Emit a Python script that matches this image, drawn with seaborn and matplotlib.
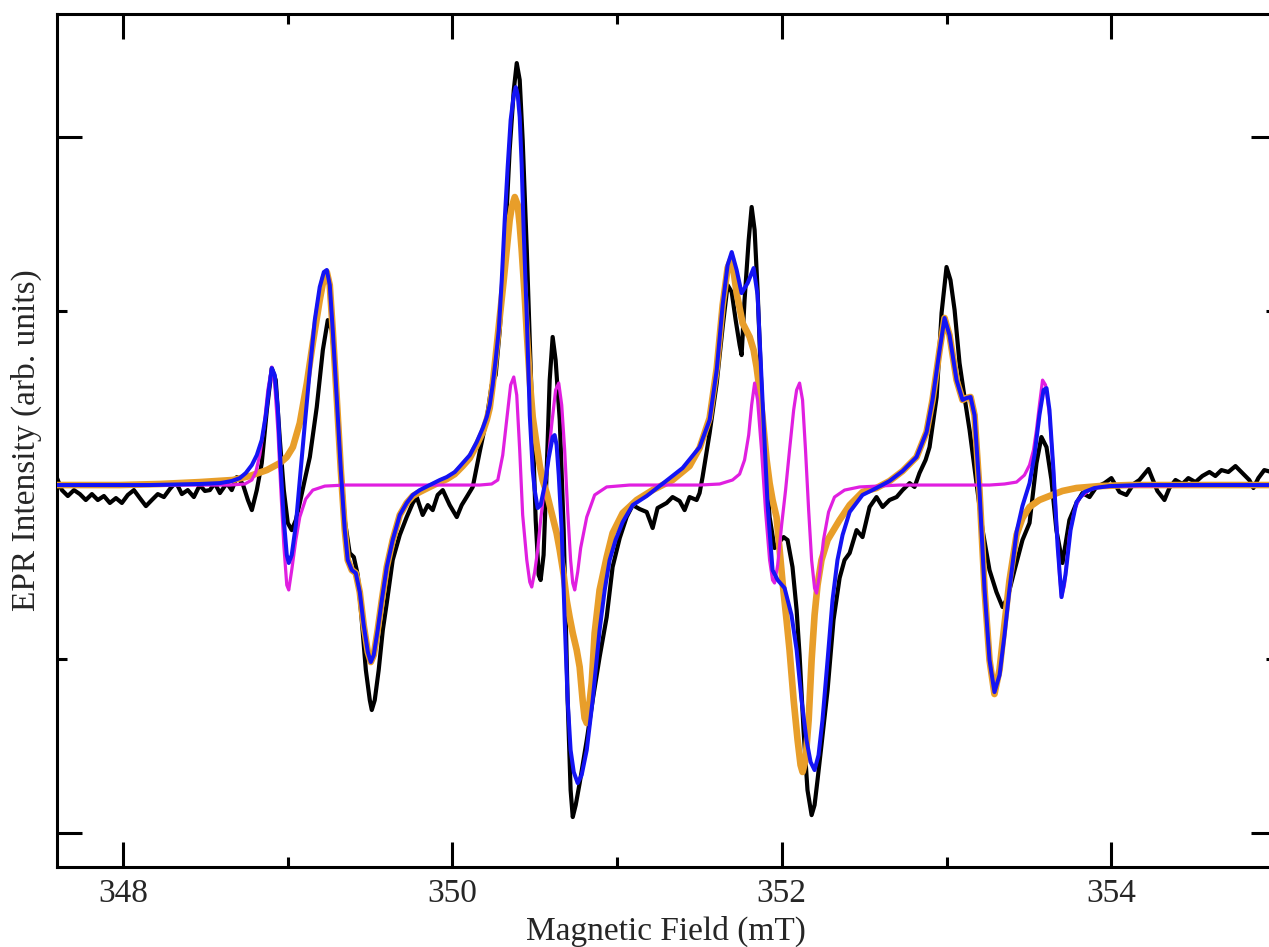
"""EPR spectrum with simulated components (experiment, fit and two sub-spectra)."""

import matplotlib
matplotlib.use('Agg')
import matplotlib.pyplot as plt
from matplotlib.ticker import MultipleLocator
import seaborn as sns

# --- data (field in mT, intensity in arb. units) ---

black_field = [
    347.600, 347.630, 347.666, 347.703, 347.739, 347.775, 347.812, 347.848, 347.885, 347.921,
    347.958, 347.994, 348.030, 348.067, 348.103, 348.140, 348.176, 348.212, 348.249, 348.285,
    348.322, 348.358, 348.394, 348.431, 348.467, 348.498, 348.528, 348.558, 348.589, 348.631,
    348.661, 348.692, 348.728, 348.759, 348.783, 348.813, 348.843, 348.874, 348.904, 348.928,
    348.953, 348.977, 349.001, 349.025, 349.050, 349.074, 349.104, 349.135, 349.177, 349.214,
    349.244, 349.268, 349.292, 349.317, 349.347, 349.377, 349.402, 349.426, 349.450, 349.475,
    349.499, 349.511, 349.529, 349.553, 349.578, 349.602, 349.638, 349.681, 349.723, 349.760,
    349.784, 349.820, 349.851, 349.881, 349.911, 349.942, 349.984, 350.027, 350.057, 350.087,
    350.124, 350.166, 350.209, 350.239, 350.263, 350.288, 350.318, 350.348, 350.373, 350.391,
    350.409, 350.427, 350.452, 350.470, 350.488, 350.506, 350.524, 350.536, 350.554, 350.573,
    350.591, 350.609, 350.627, 350.652, 350.676, 350.700, 350.718, 350.731, 350.749, 350.773,
    350.816, 350.852, 350.894, 350.937, 350.973, 351.016, 351.058, 351.095, 351.137, 351.180,
    351.216, 351.246, 351.301, 351.337, 351.380, 351.410, 351.440, 351.483, 351.501, 351.519,
    351.562, 351.605, 351.641, 351.671, 351.696, 351.720, 351.744, 351.756, 351.774, 351.799,
    351.817, 351.835, 351.853, 351.883, 351.926, 351.956, 351.980, 352.011, 352.035, 352.065,
    352.090, 352.108, 352.132, 352.156, 352.181, 352.199, 352.217, 352.241, 352.278, 352.314,
    352.351, 352.381, 352.412, 352.454, 352.490, 352.533, 352.575, 352.612, 352.654, 352.697,
    352.733, 352.776, 352.806, 352.836, 352.873, 352.897, 352.940, 352.970, 353.000, 353.024,
    353.049, 353.079, 353.109, 353.140, 353.182, 353.219, 353.261, 353.303, 353.340, 353.370,
    353.413, 353.461, 353.504, 353.546, 353.576, 353.607, 353.637, 353.667, 353.704, 353.746,
    353.789, 353.825, 353.868, 353.910, 353.959, 354.001, 354.050, 354.092, 354.135, 354.171,
    354.226, 354.280, 354.323, 354.353, 354.390, 354.432, 354.468, 354.511, 354.553, 354.596,
    354.632, 354.669, 354.711, 354.754, 354.796, 354.838, 354.863, 354.893, 354.929, 354.972,
]
black_signal = [
    0.040, -0.029, -0.063, -0.029, -0.052, -0.086, -0.052, -0.086, -0.063, -0.103,
    -0.075, -0.103, -0.057, -0.029, -0.075, -0.121, -0.086, -0.052, -0.069, -0.023,
    0.017, -0.052, -0.029, -0.069, 0.000, -0.034, -0.029, 0.011, -0.046, 0.011,
    -0.029, 0.046, 0.006, -0.086, -0.144, -0.029, 0.126, 0.431, 0.672, 0.603,
    0.259, -0.029, -0.218, -0.259, -0.201, -0.103, 0.029, 0.161, 0.448, 0.776,
    0.948, 0.891, 0.632, 0.201, -0.201, -0.391, -0.414, -0.517, -0.776, -1.063,
    -1.236, -1.293, -1.236, -1.063, -0.833, -0.678, -0.431, -0.287, -0.184, -0.103,
    -0.069, -0.172, -0.115, -0.144, -0.057, -0.029, -0.115, -0.184, -0.115, -0.069,
    -0.011, 0.190, 0.385, 0.575, 0.632, 0.891, 1.351, 1.925, 2.270, 2.425,
    2.328, 1.983, 1.351, 0.833, 0.316, -0.201, -0.517, -0.546, -0.402, 0.086,
    0.603, 0.851, 0.718, 0.374, -0.259, -1.236, -1.753, -1.908, -1.839, -1.713,
    -1.466, -1.236, -0.989, -0.759, -0.471, -0.305, -0.184, -0.115, -0.138, -0.155,
    -0.247, -0.132, -0.103, -0.069, -0.092, -0.144, -0.069, -0.086, -0.046, 0.046,
    0.299, 0.586, 0.908, 1.149, 1.109, 0.948, 0.805, 0.747, 1.063, 1.408,
    1.598, 1.466, 1.121, 0.391, -0.184, -0.362, -0.333, -0.299, -0.316, -0.471,
    -0.718, -0.977, -1.408, -1.753, -1.897, -1.839, -1.695, -1.494, -1.178, -0.776,
    -0.534, -0.431, -0.391, -0.259, -0.299, -0.126, -0.069, -0.126, -0.086, -0.069,
    -0.029, 0.011, -0.011, 0.069, 0.144, 0.218, 0.506, 0.989, 1.253, 1.178,
    1.006, 0.701, 0.506, 0.316, 0.011, -0.259, -0.489, -0.615, -0.701, -0.649,
    -0.489, -0.316, -0.218, 0.126, 0.276, 0.218, 0.029, -0.259, -0.448, -0.201,
    -0.103, -0.046, -0.069, -0.011, 0.011, 0.040, -0.040, -0.057, 0.006, 0.029,
    0.092, -0.034, -0.086, -0.017, 0.029, 0.006, 0.040, 0.017, 0.052, 0.075,
    0.052, 0.086, 0.075, 0.109, 0.069, 0.029, -0.017, 0.040, 0.086, 0.075,
]

fit_field = [
    347.600, 348.164, 348.467, 348.589, 348.661, 348.710, 348.746, 348.783, 348.813, 348.843,
    348.868, 348.886, 348.904, 348.922, 348.941, 348.959, 348.977, 348.995, 349.007, 349.025,
    349.050, 349.074, 349.104, 349.135, 349.165, 349.195, 349.220, 349.238, 349.256, 349.274,
    349.299, 349.323, 349.347, 349.365, 349.390, 349.414, 349.438, 349.462, 349.487, 349.505,
    349.523, 349.547, 349.572, 349.602, 349.638, 349.681, 349.723, 349.760, 349.802, 349.863,
    349.924, 349.966, 350.015, 350.063, 350.106, 350.148, 350.185, 350.209, 350.227, 350.245,
    350.263, 350.282, 350.300, 350.318, 350.336, 350.354, 350.373, 350.385, 350.397, 350.409,
    350.421, 350.433, 350.452, 350.470, 350.488, 350.500, 350.518, 350.536, 350.561, 350.585,
    350.609, 350.621, 350.633, 350.646, 350.664, 350.682, 350.700, 350.718, 350.737, 350.761,
    350.785, 350.816, 350.852, 350.894, 350.925, 350.955, 350.991, 351.034, 351.095, 351.180,
    351.289, 351.398, 351.501, 351.562, 351.605, 351.641, 351.671, 351.696, 351.726, 351.756,
    351.793, 351.829, 351.853, 351.883, 351.914, 351.944, 351.975, 352.017, 352.059, 352.090,
    352.120, 352.150, 352.175, 352.199, 352.223, 352.247, 352.278, 352.308, 352.338, 352.369,
    352.412, 352.490, 352.575, 352.654, 352.733, 352.818, 352.879, 352.915, 352.958, 352.988,
    353.018, 353.061, 353.097, 353.121, 353.146, 353.170, 353.200, 353.231, 353.261, 353.291,
    353.322, 353.352, 353.382, 353.425, 353.461, 353.504, 353.534, 353.564, 353.589, 353.607,
    353.625, 353.649, 353.674, 353.698, 353.722, 353.753, 353.789, 353.837, 353.898, 353.989,
    354.171, 354.972,
]
fit_signal = [
    0.000, 0.000, 0.006, 0.011, 0.023, 0.040, 0.069, 0.115, 0.172, 0.259,
    0.402, 0.546, 0.672, 0.632, 0.431, 0.086, -0.201, -0.402, -0.448, -0.402,
    -0.230, 0.029, 0.345, 0.661, 0.948, 1.138, 1.224, 1.236, 1.149, 0.891,
    0.489, 0.086, -0.259, -0.431, -0.489, -0.506, -0.615, -0.805, -0.960, -1.017,
    -0.977, -0.833, -0.661, -0.471, -0.316, -0.172, -0.103, -0.057, -0.029, 0.000,
    0.029, 0.046, 0.075, 0.126, 0.172, 0.247, 0.328, 0.391, 0.460, 0.575,
    0.718, 0.891, 1.178, 1.523, 1.828, 2.098, 2.241, 2.287, 2.241, 2.115,
    1.839, 1.466, 0.966, 0.402, 0.086, -0.029, -0.132, -0.115, 0.000, 0.155,
    0.276, 0.287, 0.230, 0.057, -0.259, -0.776, -1.236, -1.523, -1.649, -1.713,
    -1.667, -1.523, -1.236, -0.833, -0.603, -0.431, -0.316, -0.213, -0.115, -0.063,
    0.017, 0.098, 0.218, 0.374, 0.661, 1.034, 1.264, 1.339, 1.236, 1.103,
    1.161, 1.247, 1.092, 0.489, -0.115, -0.489, -0.546, -0.592, -0.747, -0.948,
    -1.236, -1.466, -1.592, -1.638, -1.552, -1.351, -1.006, -0.661, -0.431, -0.287,
    -0.155, -0.057, -0.017, 0.023, 0.080, 0.161, 0.305, 0.489, 0.776, 0.960,
    0.862, 0.603, 0.489, 0.500, 0.506, 0.402, -0.029, -0.603, -1.006, -1.190,
    -1.092, -0.862, -0.600, -0.270, -0.120, 0.011, 0.172, 0.402, 0.546, 0.557,
    0.431, 0.086, -0.345, -0.644, -0.517, -0.259, -0.098, -0.040, -0.017, -0.006,
    0.000, 0.000,
]

iso_field = [
    347.600, 347.982, 348.225, 348.467, 348.667, 348.771, 348.874, 348.953, 348.995, 349.032,
    349.074, 349.117, 349.153, 349.195, 349.220, 349.238, 349.256, 349.274, 349.299, 349.323,
    349.347, 349.365, 349.390, 349.414, 349.438, 349.462, 349.487, 349.505, 349.523, 349.547,
    349.572, 349.602, 349.638, 349.681, 349.723, 349.760, 349.802, 349.863, 349.924, 349.966,
    350.015, 350.063, 350.106, 350.148, 350.185, 350.209, 350.227, 350.245, 350.270, 350.288,
    350.312, 350.330, 350.348, 350.361, 350.379, 350.397, 350.409, 350.421, 350.439, 350.452,
    350.470, 350.488, 350.512, 350.530, 350.548, 350.573, 350.591, 350.609, 350.633, 350.652,
    350.676, 350.694, 350.712, 350.731, 350.755, 350.773, 350.791, 350.803, 350.816, 350.828,
    350.846, 350.864, 350.894, 350.937, 350.973, 351.034, 351.119, 351.216, 351.337, 351.440,
    351.501, 351.562, 351.605, 351.641, 351.671, 351.696, 351.726, 351.762, 351.805, 351.829,
    351.847, 351.865, 351.883, 351.908, 351.926, 351.944, 351.968, 351.987, 352.005, 352.029,
    352.047, 352.072, 352.096, 352.114, 352.126, 352.144, 352.163, 352.181, 352.199, 352.217,
    352.241, 352.278, 352.351, 352.412, 352.490, 352.575, 352.654, 352.733, 352.818, 352.879,
    352.915, 352.958, 352.988, 353.018, 353.061, 353.097, 353.121, 353.146, 353.170, 353.200,
    353.231, 353.261, 353.291, 353.322, 353.352, 353.382, 353.425, 353.461, 353.504, 353.564,
    353.625, 353.704, 353.789, 353.928, 354.110, 354.972,
]
iso_signal = [
    0.000, 0.000, 0.006, 0.017, 0.029, 0.052, 0.086, 0.126, 0.161, 0.218,
    0.356, 0.586, 0.816, 1.063, 1.190, 1.224, 1.149, 0.891, 0.489, 0.086,
    -0.259, -0.431, -0.489, -0.506, -0.615, -0.805, -0.960, -1.017, -0.977, -0.833,
    -0.661, -0.471, -0.316, -0.172, -0.103, -0.063, -0.040, -0.011, 0.017, 0.034,
    0.063, 0.109, 0.155, 0.230, 0.305, 0.374, 0.443, 0.575, 0.805, 0.966,
    1.178, 1.351, 1.523, 1.598, 1.655, 1.609, 1.494, 1.351, 1.092, 0.874,
    0.603, 0.391, 0.230, 0.115, 0.029, -0.046, -0.115, -0.184, -0.276, -0.374,
    -0.517, -0.661, -0.759, -0.851, -0.948, -1.046, -1.236, -1.339, -1.368, -1.293,
    -1.138, -0.851, -0.603, -0.414, -0.276, -0.161, -0.086, -0.029, 0.029, 0.109,
    0.213, 0.385, 0.672, 1.034, 1.247, 1.305, 1.103, 0.931, 0.851, 0.776,
    0.678, 0.546, 0.391, 0.144, 0.011, -0.086, -0.184, -0.374, -0.563, -0.776,
    -0.948, -1.236, -1.466, -1.609, -1.649, -1.580, -1.351, -1.006, -0.747, -0.575,
    -0.431, -0.316, -0.201, -0.115, -0.040, -0.017, 0.023, 0.080, 0.161, 0.305,
    0.489, 0.776, 0.960, 0.862, 0.603, 0.489, 0.500, 0.506, 0.402, -0.029,
    -0.603, -1.006, -1.201, -1.060, -0.800, -0.550, -0.287, -0.190, -0.126, -0.086,
    -0.063, -0.034, -0.017, -0.006, 0.000, 0.000,
]

narrow_field = [
    347.600, 348.649, 348.740, 348.783, 348.807, 348.831, 348.856, 348.880, 348.904, 348.922,
    348.941, 348.959, 348.977, 348.995, 349.007, 349.025, 349.050, 349.074, 349.110, 349.153,
    349.226, 349.347, 350.166, 350.239, 350.276, 350.306, 350.330, 350.354, 350.373, 350.391,
    350.409, 350.427, 350.452, 350.470, 350.482, 350.500, 350.518, 350.536, 350.554, 350.579,
    350.603, 350.627, 350.646, 350.664, 350.682, 350.700, 350.718, 350.731, 350.743, 350.761,
    350.779, 350.816, 350.864, 350.937, 351.076, 351.501, 351.623, 351.701, 351.744, 351.774,
    351.799, 351.817, 351.835, 351.853, 351.877, 351.901, 351.926, 351.944, 351.956, 351.975,
    351.999, 352.023, 352.047, 352.072, 352.090, 352.108, 352.126, 352.144, 352.163, 352.181,
    352.199, 352.211, 352.229, 352.253, 352.284, 352.320, 352.381, 352.472, 352.715, 353.261,
    353.352, 353.425, 353.473, 353.504, 353.528, 353.546, 353.564, 353.583, 353.601, 353.625,
    353.649, 353.667, 353.686, 353.698, 353.716, 353.746, 353.777, 353.807, 353.868, 353.928,
    354.050, 354.972,
]
narrow_signal = [
    0.000, 0.000, 0.006, 0.029, 0.075, 0.172, 0.328, 0.546, 0.678, 0.575,
    0.316, -0.029, -0.345, -0.575, -0.603, -0.489, -0.316, -0.184, -0.080, -0.029,
    -0.006, 0.000, 0.000, 0.006, 0.029, 0.172, 0.374, 0.575, 0.621, 0.517,
    0.201, -0.172, -0.431, -0.557, -0.586, -0.500, -0.374, -0.201, -0.057, 0.115,
    0.345, 0.546, 0.586, 0.460, 0.201, -0.144, -0.431, -0.563, -0.603, -0.500,
    -0.362, -0.184, -0.057, -0.011, 0.000, 0.000, 0.006, 0.029, 0.063, 0.144,
    0.287, 0.460, 0.586, 0.489, 0.201, -0.144, -0.431, -0.546, -0.563, -0.460,
    -0.230, -0.029, 0.201, 0.431, 0.546, 0.586, 0.489, 0.201, -0.144, -0.431,
    -0.592, -0.621, -0.517, -0.316, -0.155, -0.069, -0.029, -0.011, 0.000, 0.000,
    0.006, 0.017, 0.057, 0.115, 0.201, 0.316, 0.460, 0.603, 0.575, 0.402,
    0.086, -0.201, -0.517, -0.644, -0.575, -0.287, -0.144, -0.075, -0.029, -0.011,
    -0.006, 0.000,
]

x_range = (347.6, 355.0)
y_range = (-2.195, 2.707)

# --- style ---
sns.set_style("ticks")
plt.rcParams['font.family'] = ['Liberation Serif', 'DejaVu Serif']

fig = plt.figure(figsize=(12.69, 9.47), dpi=100)
ax = fig.add_axes([0.0449, 0.0845, 0.9606, 0.9007])

sns.lineplot(x=black_field, y=black_signal, ax=ax, color='black', linewidth=3.0,
             estimator=None, sort=False, zorder=2)
sns.lineplot(x=iso_field, y=iso_signal, ax=ax, color='#E89E2A', linewidth=4.8,
             estimator=None, sort=False, zorder=3)
sns.lineplot(x=narrow_field, y=narrow_signal, ax=ax, color='#E01FE0', linewidth=2.3,
             estimator=None, sort=False, zorder=4)
sns.lineplot(x=fit_field, y=fit_signal, ax=ax, color='#1414F4', linewidth=2.9,
             estimator=None, sort=False, zorder=5)

ax.set_xlim(*x_range)
ax.set_ylim(*y_range)

ax.xaxis.set_major_locator(MultipleLocator(2))
ax.xaxis.set_minor_locator(MultipleLocator(1))
ax.yaxis.set_major_locator(MultipleLocator(2))
ax.yaxis.set_minor_locator(MultipleLocator(1))

for side in ax.spines.values():
    side.set_linewidth(2.2)
    side.set_color('black')

ax.tick_params(which='both', direction='in', top=True, right=True,
               width=2.2, color='black')
ax.tick_params(which='major', length=18, labelsize=24, pad=8)
ax.tick_params(which='minor', length=7)
ax.tick_params(axis='y', labelleft=False)

ax.set_xlabel('')
ax.set_ylabel('')
fig.text(0.5248, 0.0074, 'Magnetic Field (mT)', ha='center', va='baseline', fontsize=24)
fig.text(0.021, 0.535, 'EPR Intensity (arb. units)', rotation=90,
         ha='center', va='center', fontsize=24)

fig.savefig('out.png', dpi=100)
plt.close(fig)
